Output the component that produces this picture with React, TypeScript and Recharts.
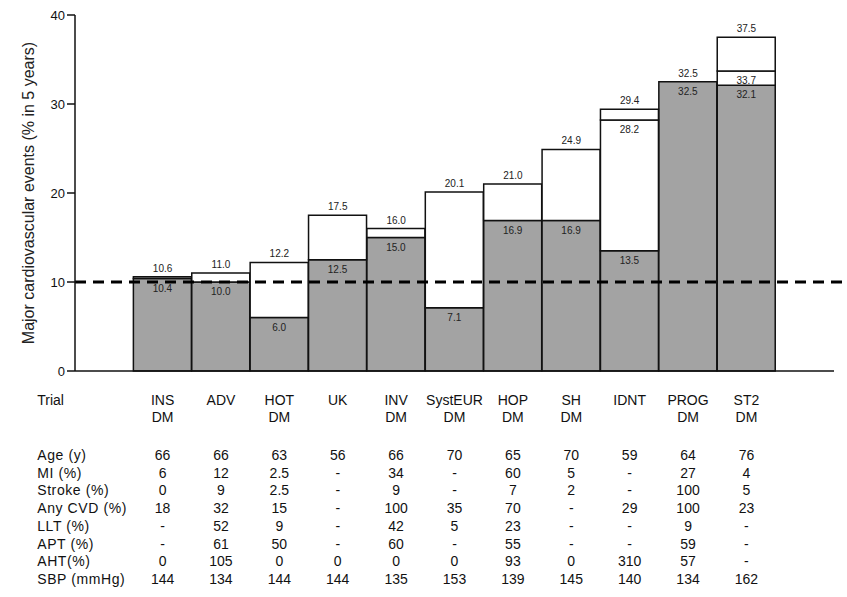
import React from "react";
import { ComposedChart, Bar, Line, XAxis, YAxis, ReferenceLine, LabelList } from "recharts";

// bar values, % major CV events in 5 years
const TRIALS = ["INS DM", "ADV", "HOT DM", "UK", "INV DM", "SystEUR DM", "HOP DM", "SH DM", "IDNT", "PROG DM", "ST2 DM"];
const LOW = [10.4, 10.0, 6.0, 12.5, 15.0, 7.1, 16.9, 16.9, 13.5, 32.5, 32.1];
const MID: (number | null)[] = [null, null, null, null, null, null, null, null, 28.2, null, 33.7];
const HIGH = [10.6, 11.0, 12.2, 17.5, 16.0, 20.1, 21.0, 24.9, 29.4, 32.5, 37.5];
const Y_TICKS = [0, 10, 20, 30, 40];

// table under the chart
const ROW_LABELS = ["Age (y)", "MI (%)", "Stroke (%)", "Any CVD (%)", "LLT (%)", "APT (%)", "AHT(%)", "SBP (mmHg)"];
const AGE = ["66", "66", "63", "56", "66", "70", "65", "70", "59", "64", "76"];
const MI = ["6", "12", "2.5", "-", "34", "-", "60", "5", "-", "27", "4"];
const STROKE = ["0", "9", "2.5", "-", "9", "-", "7", "2", "-", "100", "5"];
const ANY_CVD = ["18", "32", "15", "-", "100", "35", "70", "-", "29", "100", "23"];
const LLT = ["-", "52", "9", "-", "42", "5", "23", "-", "-", "9", "-"];
const APT = ["-", "61", "50", "-", "60", "-", "55", "-", "-", "59", "-"];
const AHT = ["0", "105", "0", "0", "0", "0", "93", "0", "310", "57", "-"];
const SBP = ["144", "134", "144", "144", "135", "153", "139", "145", "140", "134", "162"];
const TABLE = [AGE, MI, STROKE, ANY_CVD, LLT, APT, AHT, SBP];

const FONT = "Arial, 'Liberation Sans', Helvetica, sans-serif";
const GREY = "#a3a3a3";

const data = [
  { name: "padL" },
  ...TRIALS.map((t, i) => {
    const mid = MID[i];
    return {
      name: t,
      low: LOW[i],
      band: (mid ?? HIGH[i]) - LOW[i],
      cap: mid != null ? HIGH[i] - mid : 0,
      high: HIGH[i],
      lowLabel: LOW[i].toFixed(1),
      midLabel: mid != null ? mid.toFixed(1) : "",
      highLabel: HIGH[i].toFixed(1),
    };
  }),
  { name: "padR" },
];

function TableTick(props: any) {
  const { x, y, payload } = props;
  const txt = { fontFamily: FONT, fontSize: 14, fill: "#111" };
  if (payload.value === "padL") {
    return (
      <g>
        <text x={x - 67} y={y + 34} {...txt}>Trial</text>
        {ROW_LABELS.map((l, r) => (
          <text key={l} x={x - 67} y={y + 89 + r * 17.7} {...txt} letterSpacing={0.6}>{l}</text>
        ))}
      </g>
    );
  }
  const idx = TRIALS.indexOf(payload.value);
  if (idx < 0) return null;
  const [top, bottom] = payload.value.split(" ");
  return (
    <g>
      <text x={x} y={y + 34} textAnchor="middle" {...txt}>{top}</text>
      {bottom && <text x={x} y={y + 51} textAnchor="middle" {...txt}>{bottom}</text>}
      {TABLE.map((row, r) => (
        <text key={r} x={x} y={y + 89 + r * 17.7} textAnchor="middle" {...txt}>{row[idx]}</text>
      ))}
    </g>
  );
}

const labelStyle = { fontSize: 10, fill: "#222", fontFamily: FONT };

export default function App() {
  return (
    <div style={{ position: "absolute", left: 0, top: 0, background: "#fff" }}>
      <ComposedChart
        width={847}
        height={597}
        data={data}
        margin={{ top: 15, right: 13, left: 0, bottom: 26 }}
        barCategoryGap={0}
      >
        <XAxis
          dataKey="name"
          height={200}
          interval={0}
          tickSize={0}
          tickMargin={0}
          tickLine={false}
          axisLine={{ stroke: "#111", strokeWidth: 1.5 }}
          tick={<TableTick />}
        />
        <XAxis
          xAxisId="num"
          type="number"
          domain={[0, 13]}
          height={0}
          tick={false}
          tickLine={false}
          axisLine={false}
          allowDataOverflow
        />
        <YAxis
          width={75}
          domain={[0, 40]}
          ticks={Y_TICKS}
          tickSize={8}
          axisLine={{ stroke: "#111", strokeWidth: 1.5 }}
          tickLine={{ stroke: "#111", strokeWidth: 1.5 }}
          tick={{ fill: "#111", fontSize: 13, fontFamily: FONT }}
          label={{
            value: "Major cardiovascular events (% in 5 years)",
            angle: -90,
            position: "insideLeft",
            offset: 28,
            style: { textAnchor: "middle", fontSize: 16, fill: "#222", fontFamily: FONT },
          }}
        />
        <Bar dataKey="low" stackId="a" fill={GREY} stroke="#111" strokeWidth={1.5} isAnimationActive={false}>
          <LabelList dataKey="lowLabel" position="insideTop" offset={6} style={labelStyle} />
        </Bar>
        <Bar dataKey="band" stackId="a" fill="#fff" stroke="#111" strokeWidth={1.5} isAnimationActive={false}>
          <LabelList dataKey="midLabel" position="insideTop" offset={6} style={labelStyle} />
        </Bar>
        <Bar dataKey="cap" stackId="a" fill="#fff" stroke="#111" strokeWidth={1.5} isAnimationActive={false} />
        <Line dataKey="high" stroke="none" dot={false} activeDot={false} isAnimationActive={false}>
          <LabelList dataKey="highLabel" position="top" offset={5} style={labelStyle} />
        </Line>
        <ReferenceLine
          xAxisId="num"
          segment={[{ x: 0, y: 10 }, { x: 12.4, y: 10 }]}
          ifOverflow="visible"
          stroke="#000"
          strokeWidth={3}
          strokeDasharray="11 7"
        />
      </ComposedChart>
    </div>
  );
}
